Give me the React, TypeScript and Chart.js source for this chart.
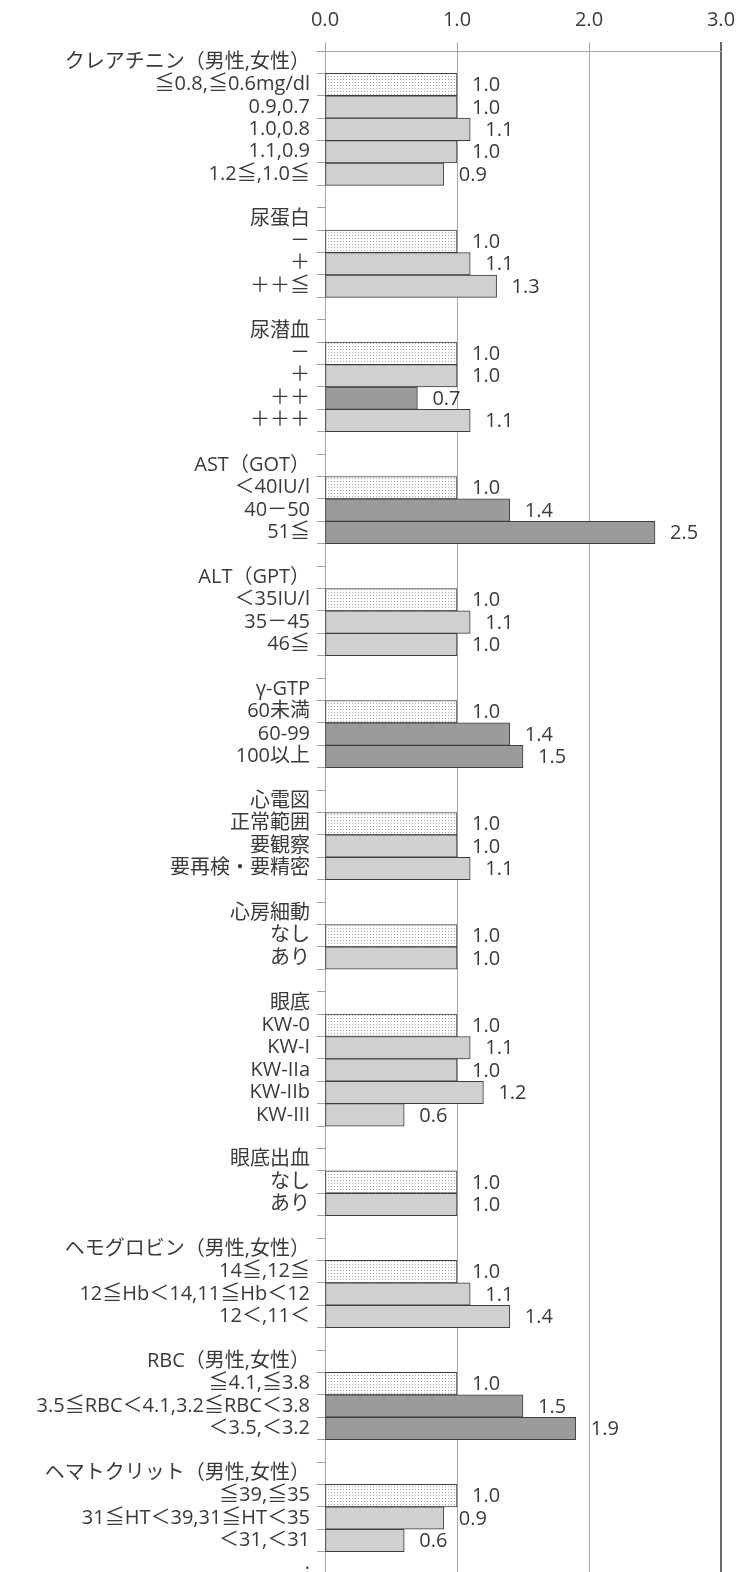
import React, { useEffect, useRef } from "react";
import { Chart, registerables } from "chart.js";

Chart.register(...registerables);

// ---- data ----
const groupTitles = [
  "クレアチニン（男性,女性）",
  "尿蛋白",
  "尿潜血",
  "AST（GOT）",
  "ALT（GPT）",
  "γ-GTP",
  "心電図",
  "心房細動",
  "眼底",
  "眼底出血",
  "ヘモグロビン（男性,女性）",
  "RBC（男性,女性）",
  "ヘマトクリット（男性,女性）",
];

const groupItems = [
  ["≦0.8,≦0.6mg/dl", "0.9,0.7", "1.0,0.8", "1.1,0.9", "1.2≦,1.0≦"],
  ["－", "＋", "＋＋≦"],
  ["－", "＋", "＋＋", "＋＋＋"],
  ["＜40IU/l", "40－50", "51≦"],
  ["＜35IU/l", "35－45", "46≦"],
  ["60未満", "60-99", "100以上"],
  ["正常範囲", "要観察", "要再検・要精密"],
  ["なし", "あり"],
  ["KW-0", "KW-I", "KW-IIa", "KW-IIb", "KW-III"],
  ["なし", "あり"],
  ["14≦,12≦", "12≦Hb＜14,11≦Hb＜12", "12＜,11＜"],
  ["≦4.1,≦3.8", "3.5≦RBC＜4.1,3.2≦RBC＜3.8", "＜3.5,＜3.2"],
  ["≦39,≦35", "31≦HT＜39,31≦HT＜35", "＜31,＜31"],
];

const groupValues = [
  [1.0, 1.0, 1.1, 1.0, 0.9],
  [1.0, 1.1, 1.3],
  [1.0, 1.0, 0.7, 1.1],
  [1.0, 1.4, 2.5],
  [1.0, 1.1, 1.0],
  [1.0, 1.4, 1.5],
  [1.0, 1.0, 1.1],
  [1.0, 1.0],
  [1.0, 1.1, 1.0, 1.2, 0.6],
  [1.0, 1.0],
  [1.0, 1.1, 1.4],
  [1.0, 1.5, 1.9],
  [1.0, 0.9, 0.6],
];

// ref = dotted reference bar, light = light grey, dark = dark grey
const groupShades = [
  ["ref", "light", "light", "light", "light"],
  ["ref", "light", "light"],
  ["ref", "light", "dark", "light"],
  ["ref", "dark", "dark"],
  ["ref", "light", "light"],
  ["ref", "dark", "dark"],
  ["ref", "light", "light"],
  ["ref", "light"],
  ["ref", "light", "light", "light", "light"],
  ["ref", "light"],
  ["ref", "light", "light"],
  ["ref", "dark", "dark"],
  ["ref", "light", "light"],
];

const xTickValues = [0, 1, 2, 3];
const trailingLabel = ".";

const FONT = "'Open Sans', 'Noto Sans CJK JP', sans-serif";
const TEXT = "#3a3a3a";

export default function App() {
  const ref = useRef<HTMLCanvasElement>(null);

  useEffect(() => {
    const canvas = ref.current;
    if (!canvas) return;

    const labels: string[] = [];
    const values: (number | null)[] = [];
    const shades: string[] = [];
    groupTitles.forEach((t, gi) => {
      labels.push(t);
      values.push(null);
      shades.push("none");
      groupItems[gi].forEach((it, i) => {
        labels.push(it);
        values.push(groupValues[gi][i]);
        shades.push(groupShades[gi][i]);
      });
      labels.push(gi === groupTitles.length - 1 ? trailingLabel : "");
      values.push(null);
      shades.push("none");
    });

    // dotted pattern
    const pc = document.createElement("canvas");
    pc.width = 3;
    pc.height = 3;
    const pctx = pc.getContext("2d")!;
    pctx.fillStyle = "#ffffff";
    pctx.fillRect(0, 0, 3, 3);
    pctx.fillStyle = "#a4a4a4";
    pctx.fillRect(1, 1, 1, 1);
    const ctx = canvas.getContext("2d")!;
    const pattern = ctx.createPattern(pc, "repeat")!;

    const colors = shades.map((s) =>
      s === "ref" ? pattern : s === "dark" ? "#9b9b9e" : s === "light" ? "#d0d0d2" : "rgba(0,0,0,0)"
    );

    const valueLabels = {
      id: "valueLabels",
      afterDatasetsDraw(chart: any) {
        const meta = chart.getDatasetMeta(0);
        const c = chart.ctx;
        c.save();
        c.font = `20px ${FONT}`;
        c.fillStyle = TEXT;
        c.textAlign = "left";
        c.textBaseline = "middle";
        meta.data.forEach((el: any, i: number) => {
          const v = values[i];
          if (v === null || v === undefined) return;
          c.fillText(v.toFixed(1), el.x + 15, el.y + 1);
        });
        c.restore();
      },
    };

    const chart = new Chart(canvas, {
      type: "bar",
      data: {
        labels,
        datasets: [
          {
            data: values as any,
            backgroundColor: colors as any,
            borderColor: "#3c3c3c",
            borderWidth: 1,
            borderSkipped: false,
            barPercentage: 1,
            categoryPercentage: 1,
          },
        ],
      },
      options: {
        indexAxis: "y",
        responsive: false,
        animation: false,
        layout: { padding: { top: 0, right: 21, bottom: 2, left: 0 } },
        plugins: {
          legend: { display: false },
          tooltip: { enabled: false },
        },
        scales: {
          x: {
            type: "linear",
            position: "top",
            min: 0,
            max: 3,
            afterBuildTicks: (s: any) => {
              s.ticks = xTickValues.map((v) => ({ value: v }));
            },
            ticks: {
              callback: (v: any) => Number(v).toFixed(1),
              font: { size: 20, family: FONT },
              color: TEXT,
              padding: 10,
            },
            grid: {
              color: (c: any) => (c.tick && c.tick.value === 3 ? "#6a6a6a" : "#a8a8a8"),
              lineWidth: (c: any) => (c.tick && c.tick.value === 3 ? 2 : 1),
              tickLength: 9,
              drawTicks: true,
              drawOnChartArea: true,
            },
            border: { display: true, color: "#a8a8a8", width: 1 },
            afterFit: (s: any) => {
              s.height = 51;
              s.paddingLeft = 0;
              s.paddingRight = 0;
            },
          },
          y: {
            type: "category",
            ticks: {
              autoSkip: false,
              font: { size: 20, family: FONT },
              color: TEXT,
              padding: 7,
            },
            grid: {
              offset: true,
              drawOnChartArea: false,
              drawTicks: true,
              tickLength: 8,
              color: "#a0a0a0",
            },
            border: { display: true, color: "#a8a8a8", width: 1 },
            afterFit: (s: any) => {
              s.width = 325;
              s.paddingTop = 0;
              s.paddingBottom = 0;
            },
          },
        },
      },
      plugins: [valueLabels],
    });

    return () => chart.destroy();
  }, []);

  return (
    <div
      style={{
        position: "absolute",
        left: 0,
        top: 0,
        width: 742,
        height: 1572,
        overflow: "hidden",
        background: "#ffffff",
      }}
    >
      <canvas ref={ref} width={742} height={1576} style={{ display: "block" }} />
    </div>
  );
}
